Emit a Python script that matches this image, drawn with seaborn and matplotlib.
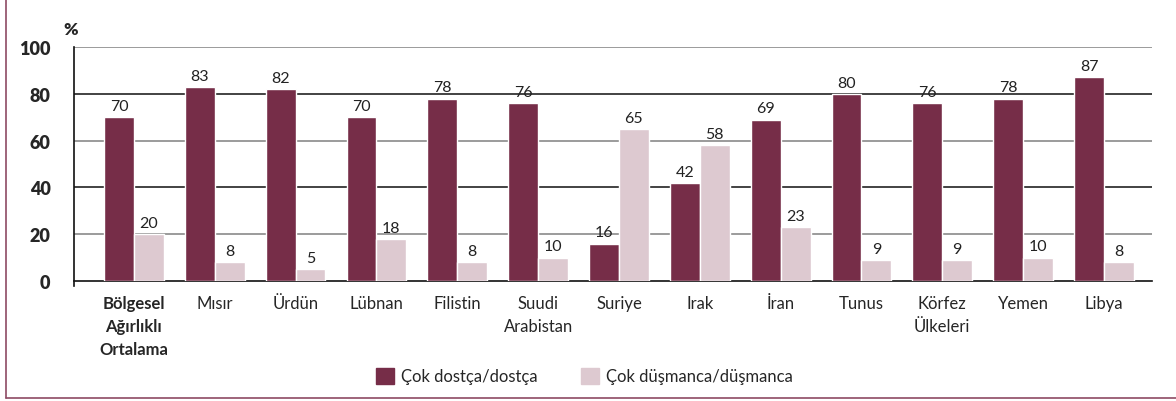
import pandas as pd
import numpy as np
import matplotlib.pyplot as plt
import seaborn as sns
from matplotlib.patches import Rectangle
from matplotlib.lines import Line2D

# Chart data
countries = ['Bölgesel\nAğırlıklı\nOrtalama', 'Mısır', 'Ürdün', 'Lübnan', 'Filistin',
             'Suudi\nArabistan', 'Suriye', 'Irak', 'İran', 'Tunus', 'Körfez\nÜlkeleri',
             'Yemen', 'Libya']
friendly = [70, 83, 82, 70, 78, 76, 16, 42, 69, 80, 76, 78, 87]
hostile = [20, 8, 5, 18, 8, 10, 65, 58, 23, 9, 9, 10, 8]
series_names = ['Çok dostça/dostça', 'Çok düşmanca/düşmanca']
y_ticks = [0, 20, 40, 60, 80, 100]

maroon = '#762D48'
pink = '#DDC9D0'

df = pd.DataFrame({
    'country': countries * 2,
    'value': friendly + hostile,
    'series': [series_names[0]] * len(countries) + [series_names[1]] * len(countries),
})

sns.set_style('white')
plt.rcParams['font.family'] = ['Lato', 'DejaVu Sans']

fig = plt.figure(figsize=(11.76, 4.02), dpi=100)
ax = fig.add_axes([0.063, 0.2985, 0.917, 0.582])

sns.barplot(data=df, x='country', y='value', hue='series', order=countries,
            hue_order=series_names, palette=[maroon, pink], width=0.74,
            saturation=1, ax=ax, legend=False, zorder=3)

for cont in ax.containers:
    ax.bar_label(cont, padding=3, fontsize=11.5, color='#222222')

ax.set_ylim(0, 100)
ax.set_xlim(-0.74, len(countries) - 0.4)
ax.set_yticks(y_ticks)
ax.set_yticklabels([str(t) for t in y_ticks], fontsize=13, fontweight='heavy')
ax.tick_params(axis='y', length=8, width=1, color='#333333', pad=9)
ax.tick_params(axis='x', length=0, pad=10, labelsize=12)
ax.set_xlabel('')
ax.set_ylabel('')
for lbl in ax.get_xticklabels():
    lbl.set_linespacing(1.55)

# alternating grid lines
for t in y_ticks[1:]:
    c = '#222222' if t in (40, 80) else '#8a8a8a'
    ax.axhline(t, color=c, lw=1.2, zorder=1)

for s in ['top', 'right']:
    ax.spines[s].set_visible(False)
ax.spines['bottom'].set_color('#111111')
ax.spines['bottom'].set_linewidth(1.2)
ax.spines['left'].set_color('#111111')
ax.spines['left'].set_linewidth(1.2)
ax.spines['left'].set_bounds(-2, 100)
ax.spines['left'].set_clip_on(False)

ax.get_xticklabels()[0].set_fontweight('bold')

fig.text(0.06, 0.925, '%', fontsize=12.5, fontweight='heavy', ha='center', va='center')

# legend
handles = [Rectangle((0, 0), 1, 1, color=maroon), Rectangle((0, 0), 1, 1, color=pink)]
fig.legend(handles, series_names, loc='center', bbox_to_anchor=(0.497, 0.062),
           ncol=2, frameon=False, fontsize=12, handlelength=1.1, handleheight=1.1,
           handletextpad=0.4, columnspacing=2.6)

# frame around the figure (left and bottom)
frame_c = '#8E4A63'
fig.add_artist(Line2D([0.0055, 0.0055], [0.008, 1.0], color=frame_c, lw=1.2, transform=fig.transFigure))
fig.add_artist(Line2D([0.0055, 1.0], [0.008, 0.008], color=frame_c, lw=1.2, transform=fig.transFigure))

fig.savefig('out.png', dpi=100)
